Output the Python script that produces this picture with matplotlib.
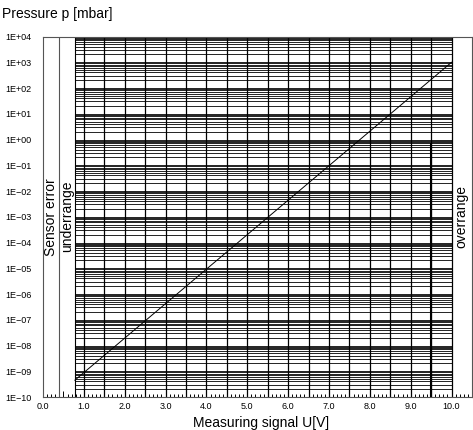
import matplotlib as mpl
import matplotlib.pyplot as plt
from matplotlib.ticker import FixedLocator, MultipleLocator, NullLocator

mpl.rcParams['font.family'] = ['Liberation Sans', 'DejaVu Sans']

# characteristic curve (measuring signal [V] -> pressure [mbar])
signal_u = [0.78, 10.0]
pressure_p = [4.5e-10, 1.0e3]

# regions / limits
x_min, x_max = 0.0, 10.5
y_min, y_max = 1e-10, 1e4
error_edge = 0.4
under_edge = 0.78
grid_x_end = 10.0
threshold_u = 9.5
threshold_top = 0.7

x_labels = [0, 1, 2, 3, 4, 5, 6, 7, 8, 9, 10]
decades = list(range(-10, 5))
grid_x = [1.0 + 0.5 * i for i in range(19)]
mantissas = [1, 2, 3, 4, 5, 6, 7, 8, 9]

fig = plt.figure(figsize=(4.73, 4.30), dpi=100)
ax = fig.add_axes([43 / 473, 33 / 430, 429 / 473, 360.5 / 430])
ax.set_yscale('log')
ax.set_xlim(x_min, x_max)
ax.set_ylim(y_min, y_max)

# horizontal grid (every mantissa of every decade)
for d in decades[:-1]:
    for m in mantissas:
        ax.hlines(m * 10.0 ** d, under_edge, grid_x_end, color='black', lw=0.6)

# vertical lines
for gx in grid_x:
    ax.axvline(gx, color='black', lw=0.9)
ax.axvline(error_edge, color='#555555', lw=0.8)
ax.axvline(under_edge, color='black', lw=0.8)
ax.vlines(threshold_u, y_min, threshold_top, color='black', lw=1.5)

# characteristic
ax.plot(signal_u, pressure_p, color='black', lw=0.7)

for s in ax.spines.values():
    s.set_linewidth(0.8)
    s.set_color('#555555')

ax.xaxis.set_major_locator(MultipleLocator(0.5))
ax.xaxis.set_minor_locator(MultipleLocator(0.1))
ax.set_xticklabels([])
ax.tick_params(axis='x', which='major', direction='in', length=4, width=0.7,
               labelbottom=False)
ax.tick_params(axis='x', which='minor', direction='in', length=2.2, width=0.7)
for v in x_labels:
    ax.text(v, -0.015, f'{v:.1f}', transform=ax.get_xaxis_transform(),
            ha='center', va='top', fontsize=6.5)

ax.yaxis.set_major_locator(FixedLocator([10.0 ** d for d in decades]))
ax.yaxis.set_minor_locator(NullLocator())
ax.set_yticklabels([('1E+%02d' % d) if d >= 0 else ('1E\u2212%02d' % -d) for d in decades])
ax.tick_params(axis='y', which='major', length=0, pad=8, labelsize=6.5)

ax.text((0 + error_edge) / 2, 0.5, 'Sensor error', transform=ax.get_xaxis_transform(),
        rotation=90, ha='center', va='center', fontsize=10)
ax.text((error_edge + under_edge) / 2, 0.5, 'underrange', transform=ax.get_xaxis_transform(),
        rotation=90, ha='center', va='center', fontsize=10)
ax.text((grid_x_end + x_max) / 2, 0.5, 'overrange', transform=ax.get_xaxis_transform(),
        rotation=90, ha='center', va='center', fontsize=10)

fig.text(2 / 473, 1 - 14 / 430, 'Pressure p [mbar]', ha='left', va='center', fontsize=10)
fig.text(261 / 473, 1 - 423 / 430, 'Measuring signal U[V]', ha='center', va='center', fontsize=10)

fig.savefig('out.png', dpi=100)
